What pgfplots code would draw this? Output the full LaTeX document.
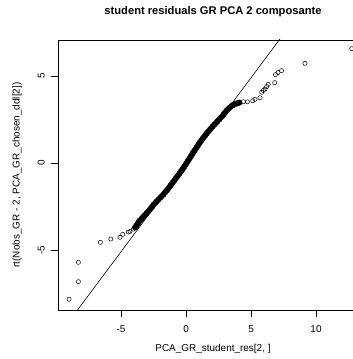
\documentclass[border=0pt]{standalone}
\usepackage{fontspec}
\setmainfont{Liberation Sans}
\usepackage{pgfplots}
\pgfplotsset{compat=1.18}

% sorted studentized residuals (x) vs t quantiles (y): dense middle part
\pgfplotstableread{
x y
-3.92 -3.70
-3.82 -3.60
-3.73 -3.50
-3.64 -3.40
-3.55 -3.30
-3.42 -3.20
-3.30 -3.10
-3.17 -3.00
-3.05 -2.90
-2.92 -2.80
-2.80 -2.70
-2.70 -2.60
-2.60 -2.50
-2.50 -2.40
-2.37 -2.30
-2.25 -2.20
-2.12 -2.10
-1.99 -2.00
-1.86 -1.90
-1.73 -1.80
-1.62 -1.70
-1.51 -1.60
-1.40 -1.50
-1.30 -1.40
-1.20 -1.30
-1.10 -1.20
-1.00 -1.10
-0.90 -1.00
-0.80 -0.90
-0.70 -0.80
-0.60 -0.70
-0.50 -0.60
-0.41 -0.50
-0.31 -0.40
-0.22 -0.30
-0.13 -0.20
-0.04 -0.10
0.05 0.00
0.13 0.10
0.22 0.20
0.30 0.30
0.38 0.40
0.47 0.50
0.55 0.60
0.64 0.70
0.73 0.80
0.82 0.90
0.91 1.00
0.99 1.10
1.08 1.20
1.18 1.30
1.28 1.40
1.38 1.50
1.49 1.60
1.59 1.70
1.70 1.80
1.82 1.90
1.93 2.00
2.05 2.10
2.17 2.20
2.30 2.30
2.42 2.40
2.55 2.50
2.67 2.60
2.80 2.70
2.90 2.80
3.00 2.90
3.11 3.00
3.24 3.10
3.38 3.20
3.55 3.30
3.67 3.35
3.80 3.40
3.93 3.43
4.10 3.47
}\dense

% tails
\pgfplotstableread{
x y
-9.00 -7.83
-8.28 -6.82
-8.28 -5.71
-6.59 -4.56
-5.79 -4.37
-5.08 -4.27
-4.87 -4.10
-4.44 -3.97
-4.31 -3.94
-4.05 -3.80
4.41 3.52
4.72 3.52
5.13 3.58
5.31 3.66
5.69 3.75
5.82 4.07
5.95 4.17
6.08 4.25
6.20 4.39
6.33 4.52
6.82 4.62
6.88 5.08
7.08 5.20
7.35 5.31
9.15 5.73
12.75 6.57
}\tails

\begin{document}
\begin{tikzpicture}
\path[use as bounding box, clip] (-58bp,-49bp) rectangle (295bp,310bp);
\begin{axis}[
    at={(0,0)}, anchor=south west,
    scale only axis,
    width=310bp, height=270bp,
    xmin=-9.85, xmax=14.0,
    ymin=-8.45, ymax=7.07,
    xtick={-5,0,5,10}, ytick={-5,0,5},
    xtick pos=left, ytick pos=left,
    tick align=outside,
    major tick length=7bp,
    axis line style={line width=0.75bp},
    tick style={black, line width=0.75bp},
    /pgf/number format/assume math mode=true,
    ticklabel style={font=\fontsize{10}{12}\selectfont, inner sep=0pt},
    xticklabel shift=8bp,
    yticklabel style={rotate=90, anchor=south},
    yticklabel shift=6bp,
    title={student residuals GR PCA 2 composante},
    title style={font=\fontsize{11.2}{13}\selectfont\bfseries,
        at={(axis description cs:0.5,1.0815)}, anchor=center},
    xlabel={PCA\_GR\_student\_res[2, ]},
    xlabel style={font=\fontsize{10}{12}\selectfont,
        at={(axis description cs:0.5,-0.1444)}, anchor=center},
    ylabel={rt(Nobs\_GR - 2, PCA\_GR\_chosen\_ddl[2])},
    ylabel style={font=\fontsize{10}{12}\selectfont,
        at={(axis description cs:-0.132,0.5)}, anchor=center},
]
\addplot[black, line width=0.6bp] coordinates {(-12,-12.1) (16,15.9)};
\addplot[only marks, mark=*, mark size=2.8bp, black] table {\dense};
\addplot[only marks, mark=o, mark size=2.1bp, mark options={line width=0.5bp}, black] table {\tails};
\end{axis}
\end{tikzpicture}
\end{document}
